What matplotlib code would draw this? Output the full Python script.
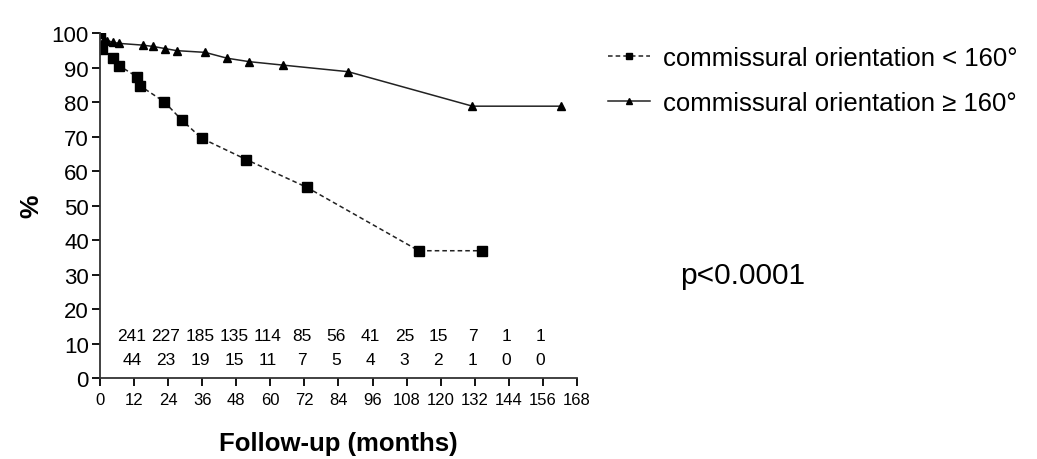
import matplotlib.pyplot as plt

plt.rcParams['font.family'] = ['Liberation Sans', 'DejaVu Sans']

# survival curves (months, %)
months_lt = [0, 0.8, 4.7, 6.8, 12.9, 14.1, 22.6, 28.8, 35.8, 51.6, 72.8, 112.3, 134.4]
surv_lt = [100, 95.3, 92.7, 90.5, 87.4, 84.7, 80.1, 74.8, 69.5, 63.3, 55.3, 36.9, 36.9]

months_ge = [0, 1.4, 2.6, 4.7, 6.8, 15.0, 18.8, 22.9, 27.0, 37.0, 44.8, 52.6, 64.5, 87.4, 131.2, 162.3]
surv_ge = [100, 98.3, 97.8, 97.3, 97.0, 96.5, 96.1, 95.5, 94.9, 94.4, 92.7, 91.7, 90.7, 88.8, 78.8, 78.8]

# numbers at risk
risk_months = [12, 24, 36, 48, 60, 72, 84, 96, 108, 120, 132, 144, 156]
risk_ge = [241, 227, 185, 135, 114, 85, 56, 41, 25, 15, 7, 1, 1]
risk_lt = [44, 23, 19, 15, 11, 7, 5, 4, 3, 2, 1, 0, 0]

label_lt = 'commissural orientation < 160°'
label_ge = 'commissural orientation \u2265 160°'

fig = plt.figure(figsize=(10.37, 4.6), dpi=100)
ax = fig.add_axes([0.0964, 0.176, 0.46, 0.75])

ax.plot(months_lt, surv_lt, color='#222222', lw=1.1, ls=(0, (3, 2)),
        marker='s', ms=6.5, mfc='black', mec='black', label=label_lt)
ax.plot(months_ge, surv_ge, color='#222222', lw=1.1, ls='-',
        marker='^', ms=6, mfc='black', mec='black', label=label_ge)

for m, a, b in zip(risk_months, risk_ge, risk_lt):
    ax.text(m - 0.8, 12.3, str(a), ha='center', va='center', fontsize=12.5)
    ax.text(m - 0.8, 5.5, str(b), ha='center', va='center', fontsize=12.5)

ax.set_xlim(0, 168)
ax.set_ylim(0, 100)
ax.set_xticks(range(0, 169, 12))
ax.set_yticks(range(0, 101, 10))
ax.tick_params(axis='y', labelsize=16, direction='out', length=6, width=1.3, pad=2)
ax.tick_params(axis='x', labelsize=12, direction='out', length=6, width=1.3, pad=4)
for s in ['top', 'right']:
    ax.spines[s].set_visible(False)
for s in ['left', 'bottom']:
    ax.spines[s].set_linewidth(1.3)
    ax.spines[s].set_color('#333333')

ax.set_xlabel('Follow-up (months)', fontsize=18.5, fontweight='bold', labelpad=17)
ax.set_ylabel('%', fontsize=19, fontweight='bold', labelpad=6)

leg = fig.legend(loc='upper left', bbox_to_anchor=(0.586, 0.897), frameon=False,
                 fontsize=18.5, handlelength=1.65, handletextpad=0.5, labelspacing=0.82,
                 borderpad=0, borderaxespad=0, markerscale=0.75)

fig.text(0.656, 0.4, 'p<0.0001', fontsize=21.5, ha='left', va='center')

fig.savefig('out.png', dpi=100)
